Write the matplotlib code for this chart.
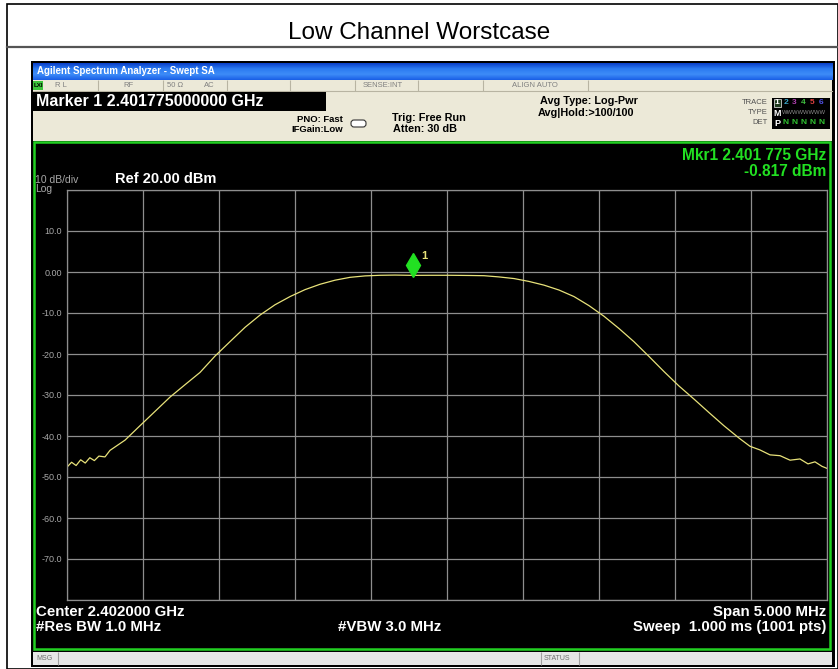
import matplotlib
matplotlib.use("Agg")
import numpy as np
from matplotlib import pyplot as plt
from matplotlib.patches import Rectangle, FancyBboxPatch
from matplotlib.colors import LinearSegmentedColormap
from matplotlib.transforms import offset_copy

W, H = 838, 669

# trace
freq_mhz = [2399.500, 2399.530, 2399.560, 2399.590, 2399.620, 2399.650, 2399.680,
            2399.710, 2399.750, 2399.783, 2399.882, 2399.980, 2400.079, 2400.178,
            2400.276, 2400.375, 2400.474, 2400.572, 2400.671, 2400.770, 2400.868,
            2400.967, 2401.066, 2401.164, 2401.263, 2401.362, 2401.461, 2401.559,
            2401.658, 2401.775, 2401.888, 2402.020, 2402.151, 2402.243, 2402.342,
            2402.441, 2402.539, 2402.638, 2402.737, 2402.836, 2402.934, 2403.033,
            2403.132, 2403.230, 2403.329, 2403.428, 2403.526, 2403.625, 2403.724,
            2403.822, 2403.921, 2403.993, 2404.059, 2404.125, 2404.191, 2404.257,
            2404.322, 2404.375, 2404.421, 2404.467, 2404.500]
level_dbm = [-47.6, -46.4, -47.2, -45.8, -46.6, -45.3, -46.0,
             -44.9, -45.1, -43.5, -41.0, -37.5, -34.0, -30.5,
             -27.5, -24.5, -20.5, -17.0, -13.5, -10.5, -8.0,
             -6.0, -4.3, -3.0, -2.0, -1.3, -0.95, -0.8,
             -0.75, -0.817, -0.8, -0.8, -0.85, -0.9, -1.2,
             -1.6, -2.3, -3.2, -4.4, -6.0, -8.2, -10.8,
             -13.8, -17.0, -20.6, -24.3, -27.8, -31.0, -34.3,
             -37.5, -40.5, -42.5, -43.4, -44.6, -44.8, -45.9,
             -45.6, -46.8, -46.3, -47.4, -47.9]

center_mhz = 2402.0
span_mhz = 5.0
ref_level = 20.0
db_div = 10.0
marker_freq = 2401.775
marker_level = -0.817
y_labels = ["10.0", "0.00", "-10.0", "-20.0", "-30.0", "-40.0", "-50.0", "-60.0", "-70.0"]

plt.rcParams['font.family'] = ["Liberation Sans", "DejaVu Sans"]

fig = plt.figure(figsize=(W / 100, H / 100), dpi=100)
bg = fig.add_axes([0, 0, 1, 1])
bg.set_xlim(0, W)
bg.set_ylim(H, 0)
bg.axis("off")


def box(x0, y0, x1, y1, fc, ec=None, lw=0, z=1):
    bg.add_patch(Rectangle((x0, y0), x1 - x0, y1 - y0, facecolor=fc,
                           edgecolor=ec if ec else fc, lw=lw, zorder=z))


def txt(x, y, s, size=8, color="black", ha="left", weight="normal", z=5):
    bg.text(x, y, s, fontsize=size, color=color, ha=ha, va="center",
            weight=weight, zorder=z)


def vline(x, y0, y1, color, lw=0.8, z=3):
    bg.plot([x, x], [y0, y1], color=color, lw=lw, zorder=z, solid_capstyle="butt")


# outer report frame and title
box(7, 4, 837.5, 668.5, "white", "black", 1.2, 0)
bg.plot([7, 838], [47, 47], color="#555555", lw=1.6, zorder=1)
txt(419, 33, "Low Channel Worstcase", size=17.5, ha="center")

# analyzer window
box(31, 61, 835, 667, "black")
grad = np.linspace(0, 1, 40).reshape(-1, 1)
xp = LinearSegmentedColormap.from_list("xp", ["#0a3fc8", "#2b7af0", "#3d8cf8", "#1a5fe6"])
bg.imshow(grad, extent=(33, 832, 80, 63), cmap=xp, aspect="auto", zorder=2)
bg.set_xlim(0, W)
bg.set_ylim(H, 0)
txt(37, 71.5, "Agilent Spectrum Analyzer - Swept SA", size=7, color="white", weight="bold")

box(33, 80, 832, 141, "#ece9d8")
bg.plot([33, 832], [91, 91], color="#b8b4a2", lw=0.8, zorder=3)
box(33, 81, 43, 90, "#3cc43c", z=3)
txt(34, 85.5, "LXI", size=4.5, weight="bold", z=6)
for sx in [98, 163, 227, 290, 355, 418, 483, 588]:
    vline(sx, 80, 91, "#b8b4a2")
for sx, s in [(55, "R L"), (123, "RF"), (167, "50 Ω"), (204, "AC"),
              (363, "SENSE:INT"), (512, "ALIGN AUTO")]:
    txt(sx, 85.5, s, size=5.5, color="#808080")

box(33, 92, 326, 111, "black", z=3)
txt(36, 101.5, "Marker 1 2.401775000000 GHz", size=11.5, color="white", weight="bold")

txt(343, 119, "PNO: Fast", size=6.8, ha="right", weight="bold")
txt(343, 130, "IFGain:Low", size=6.8, ha="right", weight="bold")
bg.add_patch(FancyBboxPatch((351, 120), 15, 7, boxstyle="round,pad=0,rounding_size=3",
                            facecolor="white", edgecolor="#333333", lw=0.8, zorder=4))
txt(429, 118, "Trig: Free Run", size=7.8, ha="center", weight="bold")
txt(425, 129, "Atten: 30 dB", size=7.8, ha="center", weight="bold")
txt(589, 101, "Avg Type: Log-Pwr", size=7.8, ha="center", weight="bold")
txt(586, 113, "Avg|Hold:>100/100", size=7.8, ha="center", weight="bold")

txt(768, 103, "TRACE", size=5.5, ha="right", color="#505050")
txt(768, 113, "TYPE", size=5.5, ha="right", color="#505050")
txt(768, 123, "DET", size=5.5, ha="right", color="#505050")
box(772, 98, 830, 129, "black", z=3)
box(773.5, 99, 780.5, 107, "#1e3a1e", "#d0d0d0", 0.6, 4)
trace_cols = ["white", "#3aa6c8", "#b040b0", "#40c040", "#e04040", "#5050e0"]
for i, c in enumerate(trace_cols):
    txt(777 + i * 8.8, 103, str(i + 1), size=6, color=c, ha="center", weight="bold")
txt(777, 113, "M", size=6.5, color="white", ha="center", weight="bold")
txt(782, 113, "WWWWWWWW", size=4.2, color="#8a8a8a")
txt(777, 123, "P", size=6.5, color="white", ha="center", weight="bold")
for i in range(5):
    txt(786 + i * 8.8, 123, "N", size=6, color="#30c030", ha="center", weight="bold")

# display area
box(34, 142, 830, 649, "black", "#22d022", 1.8, 2)
txt(35, 180, "10 dB/div", size=7.5, color="#a8a8a8")
txt(35, 189, "Log", size=7.5, color="#a8a8a8")
txt(115, 179, "Ref 20.00 dBm", size=10.5, color="white", weight="bold")
txt(826, 156, "Mkr1 2.401 775 GHz", size=11.2, color="#22e022", ha="right", weight="bold")
txt(826, 172, "-0.817 dBm", size=11.2, color="#22e022", ha="right", weight="bold")

txt(36, 612, "Center 2.402000 GHz", size=10.8, color="white", weight="bold")
txt(826, 612, "Span 5.000 MHz", size=10.8, color="white", ha="right", weight="bold")
txt(36, 627, "#Res BW 1.0 MHz", size=10.8, color="white", weight="bold")
txt(338, 627, "#VBW 3.0 MHz", size=10.8, color="white", weight="bold")
txt(826, 627, "Sweep  1.000 ms (1001 pts)", size=10.8, color="white", ha="right", weight="bold")

box(33, 652, 832, 665, "#e6e6e6")
vline(58, 652, 665, "#a0a0a0")
vline(541, 652, 665, "#a0a0a0")
vline(579, 652, 665, "#a0a0a0")
txt(36, 658.5, "MSG", size=5, color="#707070")
txt(544, 658.5, "STATUS", size=5, color="#707070")

# trace axes
ax = fig.add_axes([67 / W, (H - 600) / H, 760 / W, 410 / H], facecolor="none")
ax.set_zorder(3)
ax.set_xlim(center_mhz - span_mhz / 2, center_mhz + span_mhz / 2)
ax.set_ylim(ref_level - 10 * db_div, ref_level)
ax.set_xticks(np.arange(0, 11) * span_mhz / 10 + center_mhz - span_mhz / 2)
ax.set_yticks(np.arange(0, 11) * db_div + ref_level - 10 * db_div)
ax.set_xticklabels([])
ax.set_yticklabels([""] + y_labels[::-1] + [""])
ax.tick_params(length=0, pad=3.5, labelsize=6.5, labelcolor="#a8a8a8")
ax.grid(True, color="#8e8e8e", lw=0.9)
for sp in ax.spines.values():
    sp.set_color("#8e8e8e")
    sp.set_linewidth(0.9)

ax.plot(freq_mhz, level_dbm, color="#e8e27a", lw=0.9)
lift = offset_copy(ax.transData, fig=fig, x=0, y=10, units="dots")
ax.plot([marker_freq], [marker_level], marker="d", ms=12.5, color="#22e022",
        transform=lift, clip_on=False)
ax.text(marker_freq, marker_level, "1", transform=offset_copy(ax.transData, fig=fig, x=8, y=19, units="dots"),
        color="#e8e27a", fontsize=8, weight="bold", va="center")

fig.savefig("out.png", dpi=100)
